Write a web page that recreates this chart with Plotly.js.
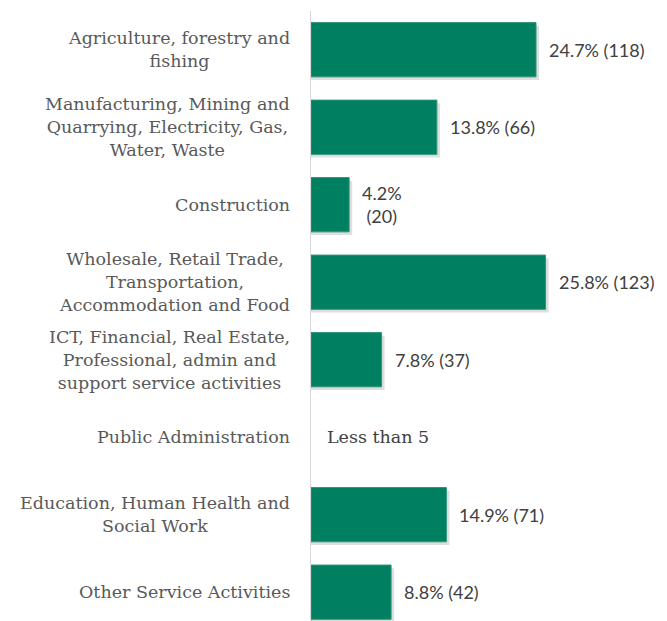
<!DOCTYPE html>
<html>
<head>
<meta charset="utf-8">
<script src="https://cdn.plot.ly/plotly-3.0.1.min.js"></script>
<style>html,body{margin:0;padding:0;background:#fff;}#chart{width:667px;height:621px;}</style>
</head>
<body>
<div id="chart"></div>
<script>
const categories = [
  'Agriculture, forestry and<br>fishing',
  'Manufacturing, Mining and<br>Quarrying, Electricity, Gas,<br>Water, Waste',
  'Construction',
  'Wholesale, Retail Trade,<br>Transportation,<br>Accommodation and Food',
  'ICT, Financial, Real Estate,<br>Professional, admin and<br>support service activities',
  'Public Administration',
  'Education, Human Health and<br>Social Work',
  'Other Service Activities'
];
const counts = [118, 66, 20, 123, 37, 0, 71, 42];
const valueLabels = ['24.7% (118)', '13.8% (66)', '4.2%<br>(20)', '25.8% (123)', '7.8% (37)', 'Less than 5', '14.9% (71)', '8.8% (42)'];

const catFont = {family: 'DejaVu Serif', size: 17.5, color: '#595959'};
const valFont = {family: 'Lato', size: 18, color: '#404040'};

const annotations = [];
categories.forEach((c, i) => {
  annotations.push({
    xref: 'paper', x: 0, yref: 'y', y: i,
    text: c, showarrow: false, xanchor: 'right', yanchor: 'middle',
    align: 'center', xshift: -19, font: catFont
  });
  const isNote = valueLabels[i] === 'Less than 5';
  annotations.push({
    xref: 'x', x: counts[i], yref: 'y', y: i,
    text: valueLabels[i], showarrow: false, xanchor: 'left', yanchor: 'middle',
    align: 'center', xshift: isNote ? 14 : 11,
    font: isNote ? {family: 'DejaVu Serif', size: 17.5, color: '#404040'} : valFont
  });
});

const idx = categories.map((c, i) => i);
const shadow = {
  type: 'bar', orientation: 'h',
  y: idx, x: counts.map(v => v > 0 ? v + 1.6 : 0),
  width: 0.7, offset: -0.31,
  marker: {color: 'rgba(0,0,0,0.13)', line: {width: 0}},
  hoverinfo: 'skip'
};
const trace = {
  type: 'bar', orientation: 'h',
  y: idx, x: counts,
  width: 0.7, offset: -0.35,
  marker: {color: '#007F61', line: {color: '#2E9479', width: counts.map(v => v > 0 ? 1 : 0)}},
  hoverinfo: 'skip'
};

const layout = {
  width: 667, height: 621,
  margin: {l: 311, r: 0, t: 11, b: 0, pad: 0},
  paper_bgcolor: '#ffffff', plot_bgcolor: '#ffffff',
  showlegend: false,
  barmode: 'overlay',
  xaxis: {range: [0, 186.7], showgrid: false, zeroline: false, showticklabels: false, showline: false, fixedrange: true},
  yaxis: {range: [7.372, -0.5], showgrid: false, zeroline: false, showticklabels: false,
          showline: true, linecolor: '#D9D9D9', linewidth: 1.5, ticks: '', fixedrange: true},
  annotations: annotations
};

Plotly.newPlot('chart', [shadow, trace], layout, {displayModeBar: false, staticPlot: true});
</script>
</body>
</html>
